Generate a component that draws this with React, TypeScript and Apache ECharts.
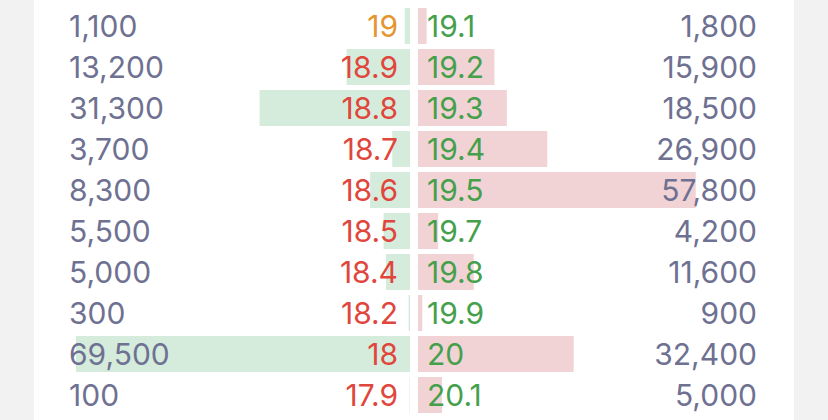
import React, { useEffect, useRef } from "react";
import * as echarts from "echarts";

const bidPrices = ["19", "18.9", "18.8", "18.7", "18.6", "18.5", "18.4", "18.2", "18", "17.9"];
const bidQty = [1100, 13200, 31300, 3700, 8300, 5500, 5000, 300, 69500, 100];
const askPrices = ["19.1", "19.2", "19.3", "19.4", "19.5", "19.7", "19.8", "19.9", "20", "20.1"];
const askQty = [1800, 15900, 18500, 26900, 57800, 4200, 11600, 900, 32400, 5000];
const lastPrice = "19";

const FONT = "Inter";
const FS = 30;
const QTY_COLOR = "#6e7191";
const BID_COLOR = "#e0463c";
const ASK_COLOR = "#45a04c";
const LAST_COLOR = "#e4952f";

const fmt = (v: number) => v.toLocaleString("en-US");

export default function App() {
  const ref = useRef<HTMLDivElement>(null);
  useEffect(() => {
    if (!ref.current) return;
    const chart = echarts.init(ref.current, null, { renderer: "svg" });
    const maxQ = Math.max(...bidQty, ...askQty);
    const top = 5.5;
    const height = 410;
    const labelBase = { fontFamily: FONT, fontSize: FS };
    chart.setOption({
      animation: false,
      backgroundColor: "transparent",
      grid: [
        { left: 76, width: 334, top, height },
        { left: 418, width: 334, top, height },
      ],
      xAxis: [
        { type: "value", gridIndex: 0, min: 0, max: maxQ, inverse: true, show: false },
        { type: "value", gridIndex: 1, min: 0, max: maxQ, show: false },
      ],
      yAxis: [
        {
          type: "category", gridIndex: 0, data: bidPrices, inverse: true, position: "right", z: 10,
          axisLine: { show: false }, axisTick: { show: false }, splitLine: { show: false },
          axisLabel: {
            ...labelBase, inside: true, margin: 12, align: "right",
            color: (v: string) => (v === lastPrice ? LAST_COLOR : BID_COLOR),
          },
        },
        {
          type: "category", gridIndex: 0, data: bidPrices, inverse: true, position: "left", z: 10,
          axisLine: { show: false }, axisTick: { show: false }, splitLine: { show: false },
          axisLabel: {
            ...labelBase, margin: 7, align: "left", color: QTY_COLOR,
            formatter: (_v: string, i: number) => fmt(bidQty[i]),
          },
        },
        {
          type: "category", gridIndex: 1, data: askPrices, inverse: true, position: "left", z: 10,
          axisLine: { show: false }, axisTick: { show: false }, splitLine: { show: false },
          axisLabel: { ...labelBase, inside: true, margin: 9, align: "left", color: ASK_COLOR },
        },
        {
          type: "category", gridIndex: 1, data: askPrices, inverse: true, position: "right", z: 10,
          axisLine: { show: false }, axisTick: { show: false }, splitLine: { show: false },
          axisLabel: {
            ...labelBase, margin: 5, align: "right", color: QTY_COLOR,
            formatter: (_v: string, i: number) => fmt(askQty[i]),
          },
        },
      ],
      series: [
        {
          type: "bar", xAxisIndex: 0, yAxisIndex: 0, data: bidQty, barWidth: 36,
          itemStyle: { color: "#d5ecdc" }, z: 1,
        },
        {
          type: "bar", xAxisIndex: 1, yAxisIndex: 2, data: askQty, barWidth: 36,
          itemStyle: { color: "#f2d3d5" }, z: 1,
        },
      ],
    });
    return () => chart.dispose();
  }, []);
  return (
    <div
      style={{
        position: "fixed", left: 0, top: 0, width: 828, height: 420,
        background: "linear-gradient(to right, #f2f2f2 34px, #ffffff 34px, #ffffff 794px, #f2f2f2 794px)",
      }}
    >
      <div ref={ref} style={{ width: 828, height: 420 }} />
    </div>
  );
}
